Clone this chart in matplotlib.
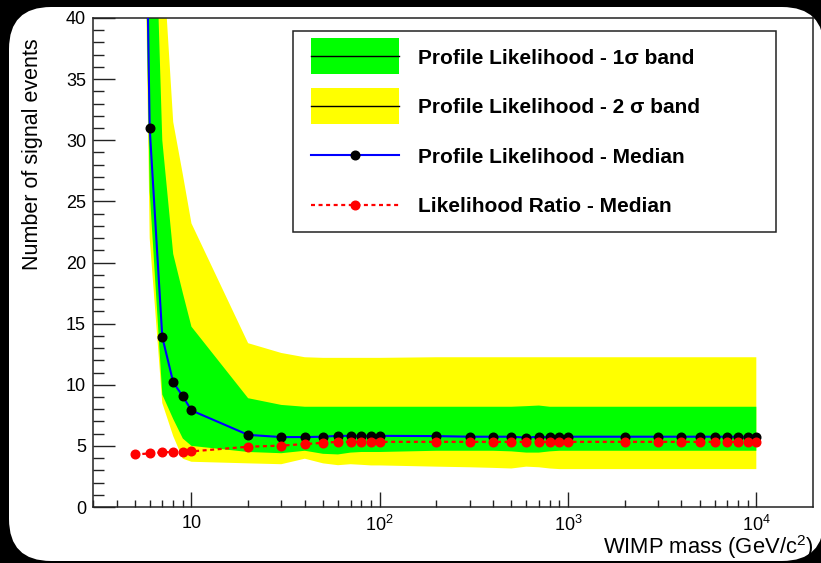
import matplotlib
matplotlib.use("Agg")
import matplotlib.pyplot as plt
import numpy as np
from matplotlib.patches import FancyBboxPatch, Rectangle
from matplotlib.lines import Line2D
from matplotlib.legend_handler import HandlerTuple
from matplotlib.ticker import FixedLocator, MultipleLocator, FuncFormatter
from matplotlib.transforms import IdentityTransform

plt.rcParams["font.family"] = ["Liberation Sans", "DejaVu Sans"]
plt.rcParams["mathtext.fontset"] = "custom"
plt.rcParams["mathtext.rm"] = "Liberation Sans"
plt.rcParams["mathtext.it"] = "Liberation Sans:italic"
plt.rcParams["mathtext.bf"] = "Liberation Sans:bold"

# WIMP mass points (GeV/c^2)
mass = [5, 6, 7, 8, 9, 10, 20, 30, 40, 50, 60, 70, 80, 90, 100,
        200, 300, 400, 500, 600, 700, 800, 900, 1000,
        2000, 3000, 4000, 5000, 6000, 7000, 8000, 9000, 10000]

# profile likelihood median and bands
pl_median = [110, 31.0, 13.9, 10.2, 9.05, 7.9, 5.9, 5.72, 5.72, 5.75, 5.82, 5.82, 5.82, 5.82, 5.82,
             5.8, 5.75, 5.75, 5.75, 5.68, 5.75, 5.72, 5.75, 5.75,
             5.75, 5.75, 5.75, 5.75, 5.75, 5.75, 5.75, 5.75, 5.75]
green_hi = [140, 64, 30, 20.7, 17.5, 14.75, 8.9, 8.35, 8.2, 8.2, 8.2, 8.2, 8.2, 8.2, 8.2,
            8.2, 8.2, 8.2, 8.2, 8.25, 8.3, 8.2, 8.2, 8.2,
            8.2, 8.2, 8.2, 8.2, 8.2, 8.2, 8.2, 8.2, 8.2]
green_lo = [100, 25.8, 9.2, 7.2, 5.6, 5.0, 4.5, 4.4, 4.6, 4.35, 4.3, 4.45, 4.5, 4.5, 4.5,
            4.6, 4.6, 4.6, 4.55, 4.45, 4.45, 4.55, 4.6, 4.6,
            4.6, 4.6, 4.6, 4.6, 4.6, 4.6, 4.6, 4.6, 4.6]
yellow_hi = [180, 90, 46, 31.5, 27.2, 23.2, 13.4, 12.6, 12.25, 12.2, 12.2, 12.2, 12.2, 12.2, 12.2,
             12.25, 12.25, 12.25, 12.25, 12.25, 12.25, 12.25, 12.25, 12.25,
             12.25, 12.25, 12.25, 12.25, 12.25, 12.25, 12.25, 12.25, 12.25]
yellow_lo = [105, 22, 8.5, 5.8, 3.95, 3.7, 3.57, 3.5, 3.95, 3.57, 3.42, 3.5, 3.45, 3.4, 3.4,
             3.3, 3.25, 3.2, 3.15, 3.3, 3.25, 3.15, 3.1, 3.1,
             3.1, 3.1, 3.1, 3.1, 3.1, 3.1, 3.1, 3.1, 3.1]

# likelihood ratio median
lr_median = [4.3, 4.38, 4.48, 4.5, 4.5, 4.55, 4.93, 5.02, 5.15, 5.25, 5.33, 5.33, 5.33, 5.33, 5.33,
             5.33, 5.33, 5.33, 5.33, 5.33, 5.33, 5.33, 5.33, 5.33,
             5.33, 5.33, 5.33, 5.33, 5.33, 5.33, 5.33, 5.33, 5.33]

legend_labels = ["Profile Likelihood - 1σ band",
                 "Profile Likelihood - 2 σ band",
                 "Profile Likelihood - Median",
                 "Likelihood Ratio - Median"]

W, H = 821, 563
fig = plt.figure(figsize=(W / 100, H / 100), dpi=100)
fig.patch.set_facecolor("black")

# rounded white canvas behind everything
panel = FancyBboxPatch((9, 2), 815, 554, boxstyle="round,pad=0,rounding_size=42",
                       transform=IdentityTransform(), facecolor="white",
                       edgecolor="none", zorder=-10)
fig.patches.append(panel)

ax = fig.add_axes([93 / W, 1 - 507 / H, 720 / W, 489 / H])
ax.set_facecolor("white")

ax.fill_between(mass, yellow_lo, yellow_hi, color="#ffff00", lw=0, zorder=1)
ax.fill_between(mass, green_lo, green_hi, color="#00ff00", lw=0, zorder=2)
ax.plot(mass, pl_median, color="#0000ff", lw=1.5, marker="o", ms=6.2,
        mfc="black", mec="black", zorder=3)
ax.plot(mass, lr_median, color="#ff0000", lw=1.6, ls=(0, (1.8, 1.6)), marker="o",
        ms=6.2, mfc="#ff0000", mec="#ff0000", zorder=4)

ax.set_xscale("log")
ax.set_xlim(3, 2e4)
ax.set_ylim(0, 40)

ax.yaxis.set_major_locator(MultipleLocator(5))
ax.yaxis.set_minor_locator(MultipleLocator(1))
ax.xaxis.set_major_locator(FixedLocator([10, 100, 1000, 10000]))
ax.xaxis.set_minor_locator(FixedLocator([m * 10 ** e for e in range(0, 4)
                                         for m in range(2, 10) if 3 <= m * 10 ** e <= 2e4]))


def fmt_x(v, pos):
    if v == 10:
        return "10"
    return r"$10^{%d}$" % round(np.log10(v))


ax.xaxis.set_major_formatter(FuncFormatter(fmt_x))

ax.tick_params(axis="both", which="both", direction="in", top=False, right=False,
               width=1.0, color="#222222", labelsize=13)
ax.tick_params(axis="y", which="major", length=15.8, pad=5)
ax.tick_params(axis="y", which="minor", length=7.9)
ax.tick_params(axis="x", which="major", length=10.8, pad=5.5)
ax.tick_params(axis="x", which="minor", length=5.0)
for sp in ax.spines.values():
    sp.set_linewidth(1.1)
    sp.set_color("#222222")

ax.set_ylabel("Number of signal events", fontsize=15.5, loc="top")
ax.yaxis.set_label_coords(-0.069, (507 - 38) / 489)
ax.set_xlabel("WIMP mass (GeV/c$^{2}$)", fontsize=15.8, loc="right")
ax.xaxis.set_label_coords(1.0, (507 - 533.5) / 489)

# legend: bands shown as thick butt-capped strokes with a thin black centre line
band_w = 36 * 72 / 100
band1 = (Line2D([], [], color="#00ff00", lw=band_w, solid_capstyle="butt"),
         Line2D([], [], color="black", lw=1))
band2 = (Line2D([], [], color="#ffff00", lw=band_w, solid_capstyle="butt"),
         Line2D([], [], color="black", lw=1))
pl_h = Line2D([], [], color="#0000ff", lw=1.5, marker="o", ms=6.2, mfc="black", mec="black")
lr_h = Line2D([], [], color="#ff0000", lw=1.6, ls=(0, (1.8, 1.6)), marker="o", ms=6.2,
              mfc="#ff0000", mec="#ff0000")

leg_pt = 15
fs = leg_pt * 100 / 72
leg = ax.legend([band1, band2, pl_h, lr_h], legend_labels,
                handler_map={tuple: HandlerTuple(ndivide=1)},
                loc="upper left", bbox_to_anchor=(310.7 / W, 1 - 48.5 / H),
                bbox_transform=fig.transFigure, frameon=False, borderpad=0,
                borderaxespad=0, numpoints=1,
                handlelength=88 / fs, labelspacing=1.47, handletextpad=19.3 / fs,
                prop={"weight": "bold", "size": leg_pt})
frame = Rectangle((293 / W, 1 - 232.3 / H), 483 / W, 201.6 / H,
                  transform=fig.transFigure, facecolor="none", edgecolor="#222222",
                  lw=1.1, zorder=10)
fig.patches.append(frame)

fig.savefig("out.png", dpi=100, facecolor=fig.get_facecolor())
